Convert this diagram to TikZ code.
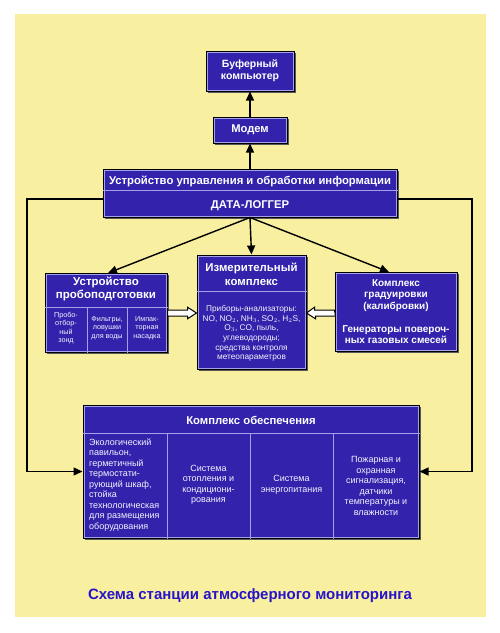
\documentclass[tikz,border=0pt]{standalone}
\usepackage{fontspec}
\setmainfont{Liberation Sans}
\usetikzlibrary{arrows.meta,shadows,calc}
\definecolor{bgyel}{RGB}{248,240,160}
\definecolor{boxblue}{RGB}{50,34,172}
\definecolor{lav}{RGB}{165,160,235}
\definecolor{ttlblue}{RGB}{40,20,200}
\tikzset{
  blk/.style={draw=black, line width=1pt, fill=boxblue, inner sep=0pt,
    drop shadow={shadow xshift=2pt, shadow yshift=-2pt, fill=black!65, opacity=1}},
  hd/.style={text=white, align=center, inner sep=0pt, font=\bfseries\fontsize{10.5}{12}\selectfont},
  sm/.style={text=white!88!lav, align=center, inner sep=0pt, font=\fontsize{7.2}{8.5}\selectfont},
  bd/.style={text=white!88!lav, align=center, inner sep=0pt, font=\fontsize{8.3}{9.7}\selectfont},
  cl/.style={text=white!88!lav, inner sep=0pt, font=\fontsize{9}{10.5}\selectfont},
  dv/.style={draw=lav, line width=0.8pt},
  con/.style={draw=black, line width=1.4pt, -{Triangle[length=9pt,width=8pt]}},
  dbl/.style={draw=black, line width=1pt, fill=white}
}
\begin{document}
\begin{tikzpicture}[x=1pt,y=-1pt]
\useasboundingbox (0,0) rectangle (500,633);
\fill[white] (0,0) rectangle (500,633);
\fill[bgyel] (15,14) rectangle (486,617);

% boxes
\node[blk, minimum width=88pt, minimum height=40pt] (buf) at (250,71) {};
\node[blk, minimum width=74pt, minimum height=26pt] (modem) at (250,130) {};
\node[blk, minimum width=294pt, minimum height=48pt] (dl) at (250,193) {};
\node[blk, minimum width=122pt, minimum height=79pt] (prep) at (106,312.5) {};
\node[blk, minimum width=109pt, minimum height=114pt] (meas) at (251.5,312) {};
\node[blk, minimum width=122pt, minimum height=79pt] (cal) at (396,311.5) {};
\node[blk, minimum width=336pt, minimum height=133pt] (supp) at (251,471.5) {};

\foreach \n in {buf,modem,dl,prep,meas,cal,supp}{
  \draw[dv] ([shift={(1.5pt,-1.5pt)}]\n.north west) rectangle ([shift={(-1.5pt,1.5pt)}]\n.south east);
}

% dividers
\draw[dv] (dl.west |- 0,190) -- (dl.east |- 0,190);
\draw[dv] (prep.west |- 0,307) -- (prep.east |- 0,307);
\draw[dv] (87,307) -- (87,0 |- prep.south);
\draw[dv] (127,307) -- (127,0 |- prep.south);
\draw[dv] (meas.west |- 0,291) -- (meas.east |- 0,291);
\draw[dv] (supp.west |- 0,433) -- (supp.east |- 0,433);
\draw[dv] (167,433) -- (167,0 |- supp.south);
\draw[dv] (250,433) -- (250,0 |- supp.south);
\draw[dv] (333,433) -- (333,0 |- supp.south);

% texts
\node[hd] (buft) at (250,71) {Буферный\\компьютер};
\node[hd, font=\bfseries\fontsize{11.2}{12}\selectfont] (modemt) at (250,130) {Модем};
\node[hd, font=\bfseries\fontsize{11.3}{12}\selectfont] (dlt1) at (250,181) {Устройство управления и обработки информации};
\node[hd, font=\bfseries\fontsize{11.3}{12}\selectfont] (dlt2) at (250,206) {ДАТА-ЛОГГЕР};
\node[hd, font=\bfseries\fontsize{11.5}{12.5}\selectfont] (prept) at (106,289) {Устройство\\пробоподготовки};
\node[sm] (s1) at (66,328) {Пробо-\\отбор-\\ный\\зонд};
\node[sm] (s2) at (107,328) {Фильтры,\\ловушки\\для воды};
\node[sm] (s3) at (147,328) {Импак-\\торная\\насадка};
\node[hd, font=\bfseries\fontsize{11.4}{14}\selectfont] (meast) at (251.5,274) {Измерительный\\комплекс};
\node[bd] (measb) at (251.5,333.5) {Приборы-анализаторы:\\NO, NO$_2$, NH$_3$, SO$_2$, H$_2$S,\\O$_3$, CO, пыль,\\углеводороды;\\средства контроля\\метеопараметров};
\node[hd, font=\bfseries\fontsize{10}{11.7}\selectfont] (calt) at (396,311.7) {Комплекс\\градуировки\\(калибровки)\\[10.9pt]Генераторы повероч-\\ных газовых смесей};
\node[hd, font=\bfseries\fontsize{11.3}{12}\selectfont] (suppt) at (251,420) {Комплекс обеспечения};
\node[cl, align=left, anchor=west] (c1) at (89,485) {Экологический\\павильон,\\герметичный\\термостати-\\рующий шкаф,\\стойка\\технологическая\\для размещения\\оборудования};
\node[cl, align=center] (c2) at (208.5,485) {Система\\отопления и\\кондициони-\\рования};
\node[cl, align=center] (c3) at (291.5,485) {Система\\энергопитания};
\node[cl, align=center] (c4) at (376,486) {Пожарная и\\охранная\\сигнализация,\\датчики\\температуры и\\влажности};

\node[text=ttlblue, inner sep=0pt, font=\bfseries\fontsize{15}{16}\selectfont] (title) at (250,596) {Схема станции атмосферного мониторинга};

% connectors
\draw[con] (modem.north) -- (buf.south);
\draw[con] (dl.north) -- (modem.south);
\draw[con] (dl.south) -- (meas.north);
\coordinate (pt) at (108,273);
\coordinate (ct) at (389,272);
\draw[con] (dl.south) -- (pt);
\draw[con] (dl.south) -- (ct);
\coordinate (lc) at (27,199);
\coordinate (rc) at (472,199);
\draw[con] ([yshift=-6pt]dl.west) -- (lc) -- (lc |- supp.west) -- (supp.west);
\draw[con] ([yshift=-6pt]dl.east) -- (rc) -- (rc |- supp.east) -- (supp.east);

% double arrows
\coordinate (la) at (prep.east |- 0,313);
\coordinate (ra) at (cal.west |- 0,313);
\draw[dbl] (la) ++(0,-3) -- ++(20,0) -- ++(0,-2.8) -- (meas.west |- 0,313) -- ++(-9,5.8) -- ++(0,-2.8) -- ++(-20,0) -- cycle;
\draw[dbl] (ra) ++(0,-3) -- ++(-20,0) -- ++(0,-2.8) -- (meas.east |- 0,313) -- ++(9,5.8) -- ++(0,-2.8) -- ++(20,0) -- cycle;
\end{tikzpicture}
\end{document}
